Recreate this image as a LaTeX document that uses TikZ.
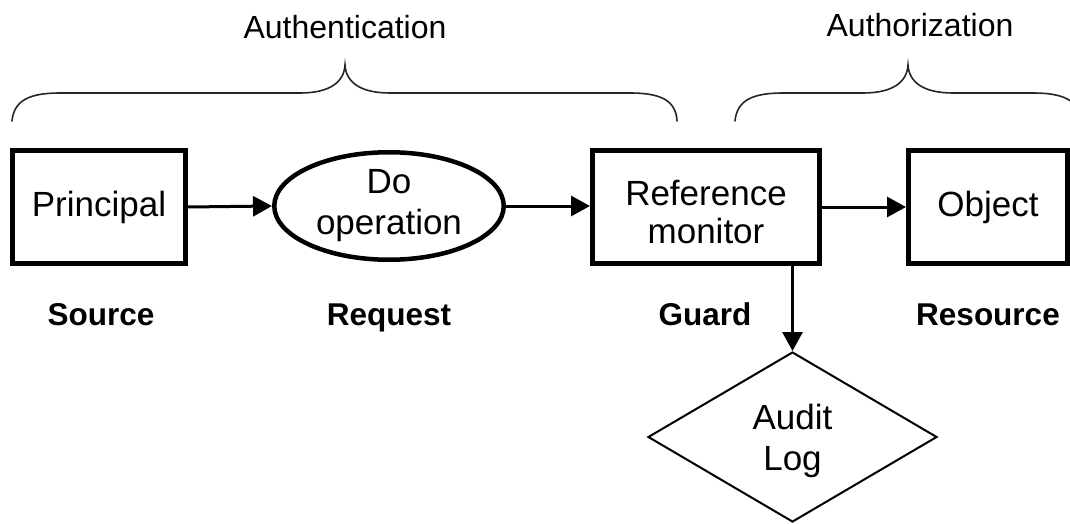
\documentclass[tikz,border=0pt]{standalone}
\usepackage{fontspec}
\setmainfont{Liberation Sans}
\usetikzlibrary{shapes.geometric,arrows.meta}
\begin{document}
\begin{tikzpicture}[x=1pt,y=-1pt,
  boxtext/.style={font=\fontsize{35}{41}\selectfont, align=center, inner sep=0pt},
  blk/.style={boxtext, draw, line width=5pt, rectangle, minimum height=113pt},
  req/.style={boxtext, draw, line width=4.5pt, ellipse, minimum width=229.5pt, minimum height=107.5pt},
  logshape/.style={boxtext, draw, line width=2pt, diamond, minimum width=289pt, minimum height=170pt},
  role/.style={font=\fontsize{31.5}{36}\selectfont\bfseries, inner sep=0pt, anchor=base},
  toplabel/.style={font=\fontsize{32}{38}\selectfont, inner sep=0pt},
  flow/.style={line width=3pt, -{Triangle[length=19pt,width=20pt]}},
  brace/.style={line width=1.6pt, line cap=round, color=black!85}]
\useasboundingbox (0,0) rectangle (1070,524);
\clip (0,0) rectangle (1070,524);
\fill[white] (0,0) rectangle (1070,524);

% top braces
\draw[brace] (12,121) .. controls (14,100) and (30,93) .. (60,93) -- (300,93)
  .. controls (330,93) and (344,82) .. (345,65)
  .. controls (346,82) and (360,93) .. (390,93) -- (630,93)
  .. controls (660,93) and (676,100) .. (677,121);
\draw[brace] (735,121) .. controls (737,100) and (753,93) .. (783,93) -- (863,93)
  .. controls (893,93) and (907,82) .. (908,65)
  .. controls (909,82) and (923,93) .. (953,93) -- (1033,93)
  .. controls (1063,93) and (1079,100) .. (1081,121);
\node[toplabel] (authn) at (345,27) {Authentication};
\node[toplabel] (authz) at (920,25) {Authorization};

% main row
\node[blk, minimum width=173pt] (principal) at (99,207) {Principal};
\node[req] (request) at (389,206) {Do\\operation};
\node[blk, minimum width=227pt, font=\fontsize{35}{38}\selectfont] (monitor) at (706,207)
  {\rule{0pt}{35.5pt}Reference\\monitor};
\node[blk, minimum width=159pt] (object) at (988,207) {Object};
\node[logshape] (audit) at (792.5,437) {\rule{0pt}{33.5pt}Audit\\Log};

% role labels
\node[role] (source) at (101,325) {Source};
\node[role] (reqlabel) at (389,325) {Request};
\node[role] (guard) at (705,325) {Guard};
\node[role] (resource) at (988,325) {Resource};

% connectors
\draw[flow] (principal.east) -- (request.west);
\draw[flow] (request.east) -- (request.east -| monitor.west);
\draw[flow] (monitor.east) -- (object.west);
\draw[flow] (audit.north |- monitor.south) -- (audit.north);
\end{tikzpicture}
\end{document}
